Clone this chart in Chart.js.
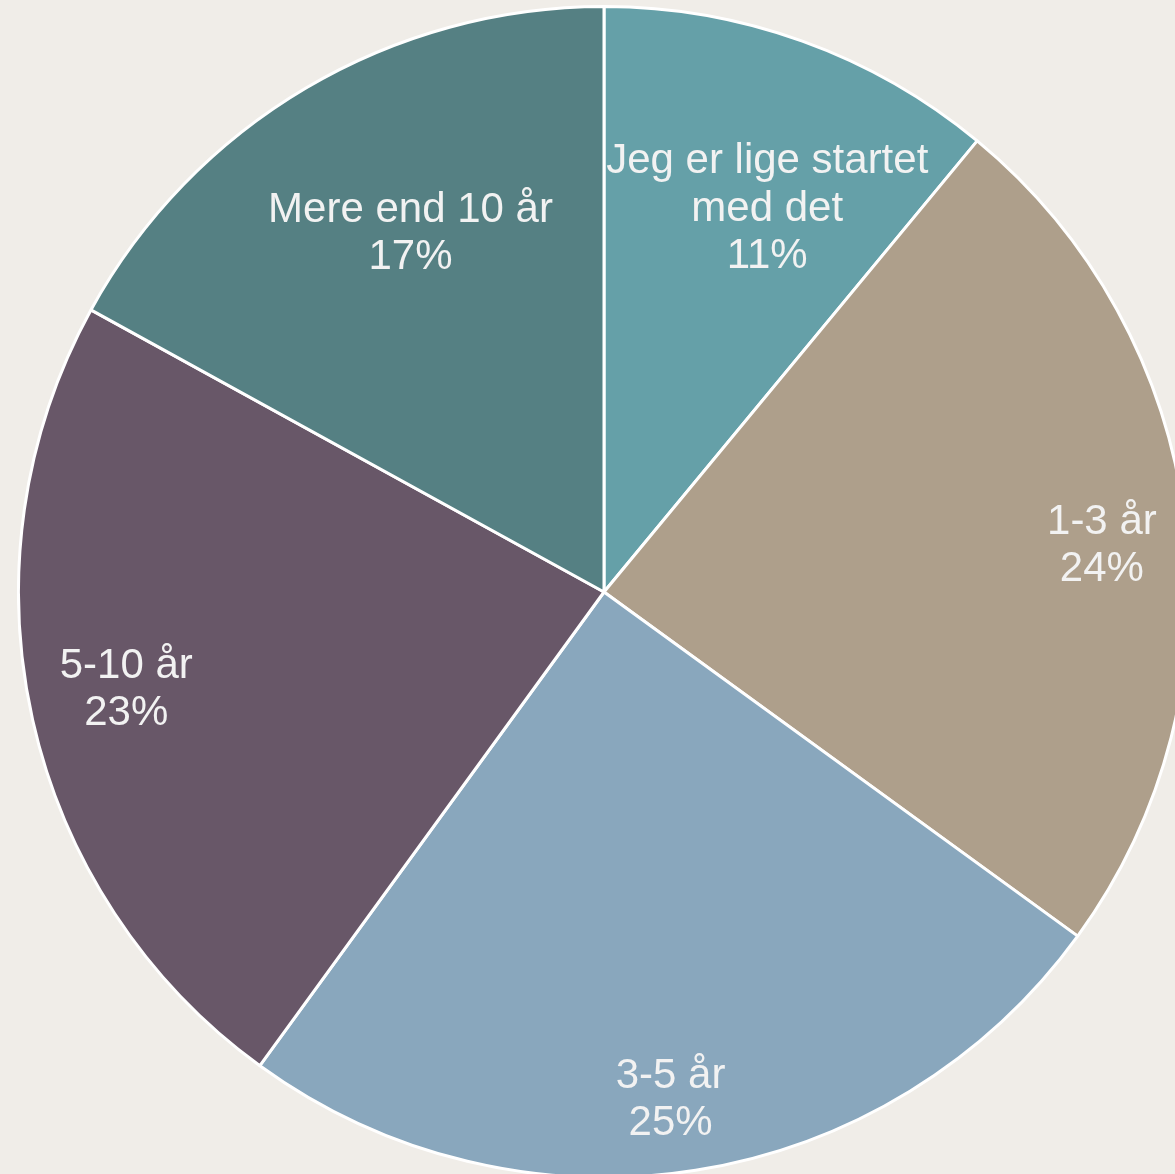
<!DOCTYPE html>
<html lang="da">
<head>
<meta charset="utf-8">
<title>Erfaring</title>
<script src="https://cdn.jsdelivr.net/npm/chart.js@4.4.1/dist/chart.umd.min.js"></script>
<style>
  html, body { margin: 0; padding: 0; background: #f0ede8; overflow: hidden; width: 1175px; height: 1174px; }
  #wrap { position: absolute; left: 17px; top: 5px; width: 1174px; height: 1174px; }
</style>
</head>
<body>
<div id="wrap"><canvas id="pie" width="1174" height="1174"></canvas></div>
<script>
// category labels (multi-line) and shares in percent
const categories = [
    ['Jeg er lige startet', 'med det'],
    ['1-3 år'],
    ['3-5 år'],
    ['5-10 år'],
    ['Mere end 10 år']
];
const shares = [11, 24, 25, 23, 17];
const sliceColors = ['#65a0a8', '#ae9f8b', '#89a7bd', '#685768', '#558083'];

// label placement inside each slice: fraction of radius, fraction of sweep
const labelRadius = [0.711, 0.854, 0.875, 0.833, 0.695];
const labelSweep = [0.583, 0.522, 0.517, 0.512, 0.536];

const sliceLabels = {
    id: 'sliceLabels',
    afterDatasetsDraw(chart) {
        const ctx = chart.ctx;
        const meta = chart.getDatasetMeta(0);
        const data = chart.data.datasets[0].data;
        ctx.save();
        ctx.fillStyle = '#f2f2f2';
        ctx.font = '42px "Liberation Sans", Arial, sans-serif';
        ctx.textAlign = 'center';
        ctx.textBaseline = 'middle';
        const lineH = 47.5;
        meta.data.forEach((arc, i) => {
            const a = arc.startAngle + (arc.endAngle - arc.startAngle) * labelSweep[i];
            const r = arc.outerRadius * labelRadius[i];
            const cx = arc.x + Math.cos(a) * r;
            const cy = arc.y + Math.sin(a) * r;
            const lines = [...chart.data.labels[i], data[i] + '%'];
            const top = cy - (lines.length - 1) * lineH / 2;
            lines.forEach((t, j) => ctx.fillText(t, cx, top + j * lineH));
        });
        ctx.restore();
    }
};

new Chart(document.getElementById('pie'), {
    type: 'pie',
    data: {
        labels: categories,
        datasets: [{
            data: shares,
            backgroundColor: sliceColors,
            borderColor: '#ffffff',
            borderWidth: 3
        }]
    },
    options: {
        responsive: false,
        animation: false,
        layout: { padding: 0 },
        plugins: {
            legend: { display: false },
            tooltip: { enabled: false }
        }
    },
    plugins: [sliceLabels]
});
</script>
</body>
</html>
